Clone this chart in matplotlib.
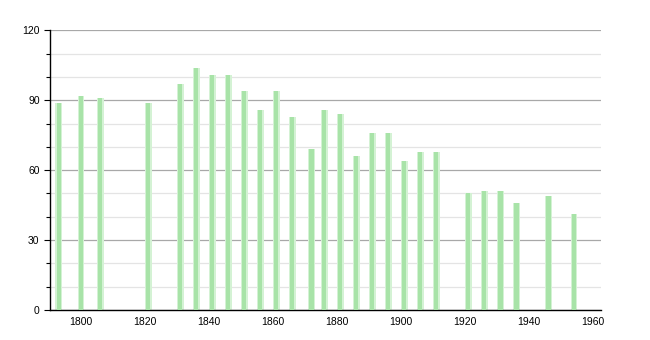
import matplotlib
matplotlib.use("Agg")
import matplotlib.pyplot as plt
from matplotlib.ticker import MultipleLocator

years = [1793, 1800, 1806, 1821, 1831, 1836, 1841, 1846, 1851, 1856, 1861, 1866,
         1872, 1876, 1881, 1886, 1891, 1896, 1901, 1906, 1911, 1921, 1926, 1931,
         1936, 1946, 1954]
population = [89, 92, 91, 89, 97, 104, 101, 101, 94, 86, 94, 83,
              69, 86, 84, 66, 76, 76, 64, 68, 68, 50, 51, 51,
              46, 49, 41]
x_ticks = [1800, 1820, 1840, 1860, 1880, 1900, 1920, 1940, 1960]
y_ticks = [0, 30, 60, 90, 120]

plt.rcParams["font.family"] = ["Liberation Sans", "DejaVu Sans"]

fig = plt.figure(figsize=(6.5, 3.4), dpi=100)
ax = fig.add_axes([0.077, 0.088, 0.848, 0.823])

# soft edge + solid core to mimic the gradient bars
ax.bar(years, population, width=2.0, color="#d4f2d4", zorder=2)
ax.bar(years, population, width=1.3, color="#a8e3a8", zorder=3)

ax.set_xlim(1790.3, 1962.5)
ax.set_ylim(0, 120)
ax.set_xticks(x_ticks)
ax.set_yticks(y_ticks)
ax.yaxis.set_minor_locator(MultipleLocator(10))
ax.grid(axis="y", which="major", color="#a8a8a8", lw=0.9, zorder=1)
ax.grid(axis="y", which="minor", color="#e4e4e4", lw=0.9, zorder=1)
ax.tick_params(axis="x", length=0, labelsize=7.5, pad=5)
ax.tick_params(axis="y", which="major", length=4, width=0.8, labelsize=7.5)
ax.tick_params(axis="y", which="minor", length=3, width=0.8)
for s in ["top", "right"]:
    ax.spines[s].set_visible(False)
for s in ["left", "bottom"]:
    ax.spines[s].set_linewidth(1.0)
    ax.spines[s].set_color("black")

fig.savefig("out.png", dpi=100)
